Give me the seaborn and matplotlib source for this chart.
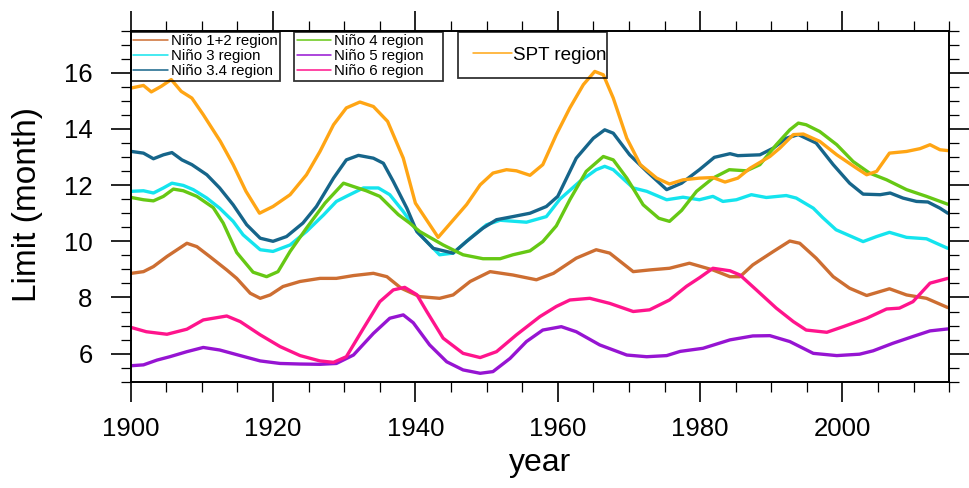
import matplotlib
matplotlib.use("Agg")
import matplotlib.pyplot as plt
from matplotlib.ticker import MultipleLocator
from matplotlib.lines import Line2D
import seaborn as sns
import pandas as pd

# ---------------- data ----------------
labels = ["Niño 1+2 region", "Niño 3 region", "Niño 3.4 region",
          "Niño 4 region", "Niño 5 region", "Niño 6 region", "SPT region"]
colors = ["#cd6e32", "#14e4ee", "#16658a", "#66c814", "#9614d2", "#ff148c", "#ffa514"]

yr_n12 = [1900.1, 1901.8, 1903.2, 1905.1, 1907.9, 1909.3, 1911.1, 1913.5, 1914.9, 1916.8,
          1918.2, 1919.6, 1921.4, 1923.8, 1926.6, 1928.9, 1931.3, 1934.1, 1936.0, 1938.0,
          1940.6, 1943.4, 1945.3, 1947.7, 1950.5, 1953.7, 1957.0, 1959.4, 1962.6, 1965.4,
          1967.3, 1970.6, 1972.9, 1975.7, 1978.5, 1981.8, 1984.2, 1985.6, 1987.4, 1990.3,
          1992.6, 1994.0, 1996.3, 1998.7, 2001.0, 2003.4, 2006.6, 2009.0, 2011.8, 2014.8]
val_n12 = [8.86, 8.92, 9.10, 9.46, 9.93, 9.81, 9.46, 8.98, 8.68, 8.15,
           7.97, 8.09, 8.39, 8.57, 8.68, 8.68, 8.78, 8.86, 8.74, 8.33,
           8.03, 7.97, 8.09, 8.57, 8.92, 8.80, 8.63, 8.86, 9.40, 9.70,
           9.58, 8.92, 8.98, 9.04, 9.22, 8.98, 8.74, 8.74, 9.16, 9.64,
           10.01, 9.93, 9.40, 8.74, 8.33, 8.07, 8.31, 8.09, 7.97, 7.64]

yr_n3 = [1900.1, 1901.8, 1903.2, 1904.6, 1905.8, 1907.4, 1908.8, 1910.7, 1912.5, 1914.4,
         1915.8, 1918.2, 1920.0, 1922.4, 1924.7, 1927.1, 1928.9, 1930.3, 1932.7, 1934.8,
         1936.4, 1938.3, 1940.4, 1943.4, 1945.3, 1947.7, 1950.0, 1951.9, 1955.6, 1958.4,
         1960.3, 1963.1, 1965.4, 1966.6, 1967.8, 1970.6, 1972.5, 1975.3, 1977.6, 1979.9,
         1981.8, 1983.2, 1985.1, 1987.2, 1989.3, 1992.1, 1993.5, 1995.9, 1997.2, 1999.1,
         2002.9, 2004.8, 2006.6, 2009.0, 2011.8, 2013.2, 2014.8]
val_n3 = [11.78, 11.80, 11.72, 11.90, 12.07, 11.99, 11.84, 11.54, 11.18, 10.71,
          10.23, 9.70, 9.64, 9.87, 10.35, 10.94, 11.42, 11.60, 11.90, 11.90,
          11.66, 11.06, 10.30, 9.52, 9.58, 10.11, 10.59, 10.75, 10.68, 10.88,
          11.50, 12.13, 12.55, 12.67, 12.55, 11.90, 11.78, 11.48, 11.57, 11.48,
          11.60, 11.42, 11.48, 11.66, 11.56, 11.63, 11.54, 11.18, 10.85, 10.41,
          9.99, 10.17, 10.32, 10.14, 10.09, 9.93, 9.75]

yr_n34 = [1900.1, 1901.8, 1903.2, 1904.6, 1905.8, 1907.2, 1908.6, 1910.7, 1912.5, 1914.4,
          1916.3, 1918.2, 1920.0, 1921.9, 1924.2, 1926.1, 1928.5, 1930.3, 1932.0, 1934.1,
          1935.5, 1936.9, 1938.8, 1940.2, 1942.5, 1945.3, 1947.2, 1949.5, 1951.4, 1953.7,
          1956.1, 1958.4, 1960.0, 1962.6, 1965.0, 1966.6, 1967.8, 1970.1, 1972.5, 1975.3,
          1977.4, 1979.9, 1982.0, 1984.2, 1985.3, 1988.4, 1990.3, 1992.1, 1993.8, 1996.3,
          1998.7, 2001.0, 2002.9, 2005.3, 2006.7, 2008.5, 2010.4, 2012.0, 2013.7, 2014.8]
val_n34 = [13.20, 13.14, 12.94, 13.08, 13.16, 12.90, 12.73, 12.37, 11.90, 11.30,
           10.59, 10.11, 10.00, 10.17, 10.65, 11.24, 12.25, 12.90, 13.06, 12.96,
           12.78, 12.13, 11.18, 10.35, 9.75, 9.58, 10.00, 10.47, 10.77, 10.88,
           11.00, 11.24, 11.60, 12.96, 13.67, 13.97, 13.85, 13.08, 12.49, 11.84,
           12.07, 12.55, 12.99, 13.12, 13.05, 13.08, 13.32, 13.67, 13.80, 13.50,
           12.73, 12.07, 11.68, 11.66, 11.72, 11.54, 11.42, 11.40, 11.18, 11.00]

yr_n4 = [1900.1, 1901.8, 1903.2, 1904.6, 1906.0, 1907.4, 1909.3, 1911.6, 1913.0, 1914.9,
         1917.2, 1919.1, 1920.7, 1922.4, 1924.7, 1927.3, 1929.9, 1931.3, 1933.1, 1935.0,
         1937.6, 1939.2, 1940.6, 1943.9, 1946.7, 1949.5, 1951.9, 1953.7, 1956.1, 1957.9,
         1959.8, 1961.7, 1964.0, 1966.4, 1967.8, 1969.7, 1972.0, 1974.2, 1975.7, 1977.4,
         1979.5, 1981.8, 1984.1, 1986.5, 1988.4, 1990.7, 1992.6, 1993.8, 1994.9, 1996.8,
         1999.2, 2001.5, 2003.8, 2006.2, 2009.0, 2011.8, 2014.8]
val_n4 = [11.56, 11.48, 11.44, 11.60, 11.86, 11.80, 11.60, 11.20, 10.65, 9.60,
          8.90, 8.74, 8.92, 9.64, 10.47, 11.36, 12.07, 11.95, 11.80, 11.60,
          10.95, 10.65, 10.35, 9.87, 9.52, 9.38, 9.38, 9.52, 9.66, 9.99,
          10.55, 11.48, 12.49, 13.02, 12.90, 12.25, 11.30, 10.82, 10.71, 11.10,
          11.78, 12.25, 12.55, 12.51, 12.73, 13.44, 13.97, 14.21, 14.15, 13.91,
          13.44, 12.84, 12.43, 12.19, 11.84, 11.60, 11.32]

yr_n5 = [1900.1, 1901.8, 1903.7, 1905.5, 1907.9, 1910.2, 1912.5, 1915.4, 1918.2, 1921.0,
         1923.8, 1926.6, 1928.9, 1931.3, 1934.1, 1936.4, 1938.3, 1939.7, 1942.0, 1944.4,
         1946.7, 1949.1, 1950.9, 1953.3, 1955.6, 1957.9, 1960.5, 1962.6, 1965.9, 1969.7,
         1972.5, 1975.3, 1977.2, 1980.4, 1984.2, 1987.4, 1989.8, 1992.6, 1995.9, 1999.2,
         2002.4, 2004.3, 2007.1, 2009.9, 2012.3, 2014.8]
val_n5 = [5.57, 5.60, 5.77, 5.89, 6.07, 6.22, 6.13, 5.93, 5.74, 5.65,
          5.63, 5.62, 5.65, 5.95, 6.72, 7.26, 7.38, 7.10, 6.31, 5.71,
          5.42, 5.30, 5.36, 5.83, 6.43, 6.84, 6.96, 6.78, 6.31, 5.95,
          5.89, 5.93, 6.08, 6.19, 6.49, 6.63, 6.64, 6.43, 6.01, 5.93,
          5.98, 6.10, 6.37, 6.61, 6.81, 6.88]

yr_n6 = [1900.1, 1902.2, 1905.1, 1907.9, 1910.2, 1913.5, 1915.4, 1918.2, 1921.0, 1923.8,
         1926.6, 1928.5, 1930.3, 1932.7, 1935.0, 1936.9, 1938.5, 1940.2, 1941.6, 1943.9,
         1946.7, 1949.1, 1951.4, 1954.2, 1957.5, 1959.8, 1961.7, 1964.5, 1967.3, 1970.6,
         1972.9, 1975.7, 1978.1, 1979.9, 1981.8, 1984.2, 1985.6, 1987.9, 1990.7, 1993.1,
         1994.9, 1997.8, 2000.1, 2003.4, 2006.2, 2008.0, 2009.9, 2012.3, 2014.8]
val_n6 = [6.93, 6.78, 6.69, 6.87, 7.20, 7.34, 7.14, 6.67, 6.25, 5.93,
          5.74, 5.69, 5.89, 6.90, 7.85, 8.27, 8.36, 8.10, 7.50, 6.55,
          6.01, 5.86, 6.07, 6.67, 7.32, 7.68, 7.91, 7.97, 7.79, 7.50,
          7.56, 7.91, 8.40, 8.70, 9.04, 8.95, 8.80, 8.27, 7.62, 7.14,
          6.84, 6.76, 6.96, 7.26, 7.59, 7.62, 7.85, 8.51, 8.68]

yr_spt = [1900.1, 1901.8, 1902.9, 1904.3, 1905.7, 1907.1, 1908.6, 1910.2, 1912.6, 1914.4,
          1916.2, 1918.1, 1920.0, 1922.4, 1924.7, 1926.6, 1928.5, 1930.3, 1932.2, 1934.1,
          1936.1, 1938.3, 1940.0, 1943.2, 1947.2, 1949.1, 1950.9, 1952.8, 1954.2, 1956.1,
          1957.9, 1959.8, 1961.7, 1963.6, 1965.2, 1966.4, 1967.8, 1969.7, 1971.6, 1973.9,
          1975.7, 1977.6, 1979.9, 1981.8, 1983.5, 1985.3, 1987.0, 1989.8, 1991.2, 1993.1,
          1994.5, 1996.8, 1999.2, 2002.0, 2003.4, 2004.8, 2006.6, 2009.0, 2010.9, 2012.3,
          2013.7, 2014.8]
val_spt = [15.46, 15.55, 15.32, 15.52, 15.76, 15.34, 15.10, 14.51, 13.56, 12.73,
           11.78, 11.00, 11.24, 11.66, 12.37, 13.20, 14.15, 14.75, 14.96, 14.80,
           14.27, 12.96, 11.36, 10.14, 11.31, 12.01, 12.43, 12.55, 12.51, 12.35,
           12.73, 13.80, 14.75, 15.58, 16.05, 15.93, 15.10, 13.67, 12.73, 12.25,
           12.04, 12.19, 12.25, 12.27, 12.11, 12.25, 12.60, 13.02, 13.32, 13.80,
           13.82, 13.56, 13.08, 12.60, 12.37, 12.49, 13.14, 13.20, 13.30, 13.44,
           13.26, 13.23]

x_ticks = [1900, 1920, 1940, 1960, 1980, 2000]
y_ticks = [6, 8, 10, 12, 14, 16]

# ---------------- style ----------------
sns.set_theme(style="ticks")
plt.rcParams["font.family"] = ["Liberation Sans", "DejaVu Sans"]
plt.rcParams["text.color"] = "black"
plt.rcParams["axes.labelcolor"] = "black"
plt.rcParams["xtick.color"] = "black"
plt.rcParams["ytick.color"] = "black"

fig = plt.figure(figsize=(9.7, 4.88), dpi=100)
ax = fig.add_axes([0.1347, 0.2178, 0.8439, 0.7193])

series = [(yr_n12, val_n12), (yr_n3, val_n3), (yr_n34, val_n34), (yr_n4, val_n4),
          (yr_n5, val_n5), (yr_n6, val_n6), (yr_spt, val_spt)]
for (yrs, vals), lab, col in zip(series, labels, colors):
    df = pd.DataFrame({"year": yrs, "limit": vals})
    sns.lineplot(data=df, x="year", y="limit", color=col, lw=2.4, ax=ax,
                 legend=False, sort=False, estimator=None)

ax.set_xlim(1900, 2015)
ax.set_ylim(5, 17.5)
ax.set_xticks(x_ticks)
ax.set_yticks(y_ticks)
ax.xaxis.set_minor_locator(MultipleLocator(5))
ax.yaxis.set_minor_locator(MultipleLocator(0.5))

for s in ax.spines.values():
    s.set_linewidth(1.4)
    s.set_color("black")
ax.tick_params(which="both", direction="out", top=True, right=True,
               colors="black", labelcolor="black")
ax.tick_params(which="major", length=14.4, width=1.2, labelsize=18.5)
ax.tick_params(which="minor", length=7.2, width=0.9)
ax.tick_params(axis="x", which="major", pad=11)
ax.tick_params(axis="y", which="major", pad=13)

ax.set_xlabel("year", fontsize=23, color="black")
ax.set_ylabel("Limit (month)", fontsize=24, color="black")
ax.xaxis.set_label_coords(0.5, -0.19)
ax.yaxis.set_label_coords(-0.107, 0.505)

# ---------------- legends ----------------
def make_handles(idx, lw):
    return [Line2D([0], [0], color=colors[i], lw=lw) for i in idx]

box_w = 149 / 818.6
boxes = [([0, 1, 2], 0.0), ([3, 4, 5], (294 - 130.7) / 818.6)]
for idx, x0 in boxes:
    leg = ax.legend(make_handles(idx, 1.1), [labels[i] for i in idx],
                    loc="upper left", bbox_to_anchor=(x0, 0.0, box_w, 0.997),
                    mode="expand", fontsize=10.8, frameon=True, fancybox=False,
                    edgecolor="black", facecolor="none", framealpha=None,
                    borderpad=0.17, labelspacing=0.06, handlelength=2.3,
                    handletextpad=0.2, borderaxespad=0.0, labelcolor="black")
    leg.get_frame().set_linewidth(1.3)
    ax.add_artist(leg)

leg3 = ax.legend(make_handles([6], 1.1), [labels[6]], loc="upper left",
                 bbox_to_anchor=((458 - 130.7) / 818.6, 0.0, box_w, 0.997),
                 mode="expand", fontsize=13.6, frameon=True, fancybox=False,
                 edgecolor="black", facecolor="none", framealpha=None,
                 borderpad=0.78, handlelength=2.1, handletextpad=0.05,
                 borderaxespad=0.0, labelcolor="black")
leg3.get_frame().set_linewidth(1.3)

fig.savefig("out.png", dpi=100)
